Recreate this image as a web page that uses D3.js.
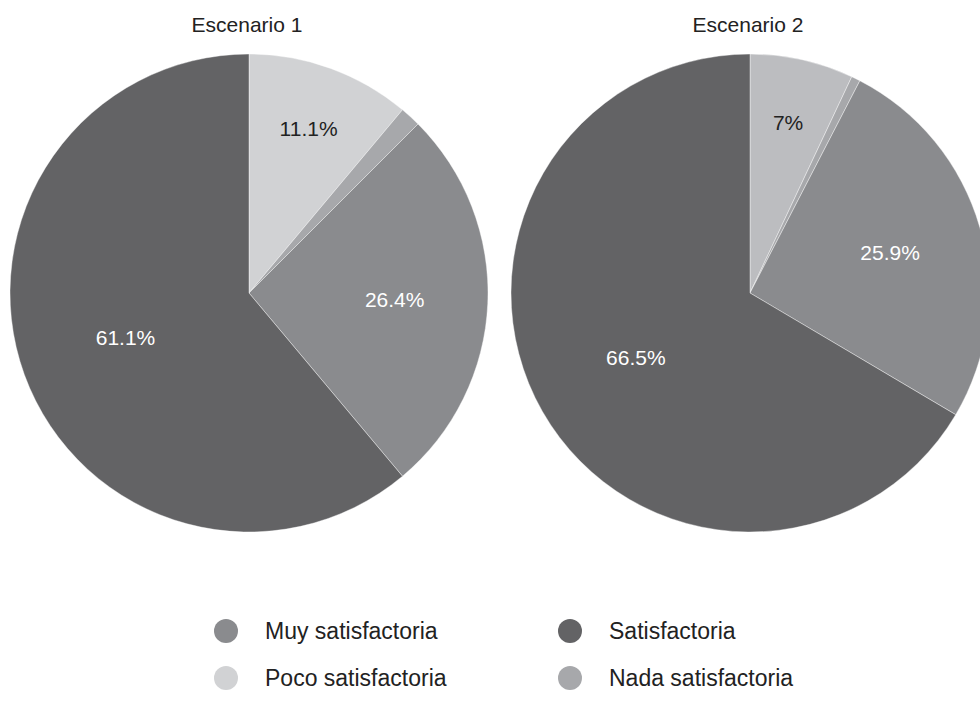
<!DOCTYPE html>
<html><head><meta charset="utf-8">
<script src="https://cdn.jsdelivr.net/npm/d3@7"></script>
<style>body{margin:0;background:#fff;} svg{display:block;}</style>
</head><body>
<svg id="chart" width="980" height="715"></svg>
<script>
const categories = ["Poco satisfactoria", "Nada satisfactoria", "Muy satisfactoria", "Satisfactoria"];
const scenarioTitles = ["Escenario 1", "Escenario 2"];
const scenario1 = [11.1, 1.4, 26.4, 61.1];
const scenario2 = [7.0, 0.6, 25.9, 66.5];
const labels1 = ["11.1%", "", "26.4%", "61.1%"];
const labels2 = ["7%", "", "25.9%", "66.5%"];
const legendOrder = ["Muy satisfactoria", "Satisfactoria", "Poco satisfactoria", "Nada satisfactoria"];

const colors = {"Poco satisfactoria":"#d1d2d4","Nada satisfactoria":"#a7a8ab","Muy satisfactoria":"#8a8b8e","Satisfactoria":"#636365"};
const colors2 = Object.assign({}, colors, {"Poco satisfactoria":"#bcbdc0"});

const svg = d3.select("#chart");
const font = "'Liberation Sans', Arial, Helvetica, sans-serif";
const R = 239;
const pie = d3.pie().sort(null).value(d => d.v);
const arc = d3.arc().innerRadius(0).outerRadius(R);

function labelRadius(frac) {
  if (frac < 0.15) return R * 0.73;
  if (frac < 0.5) return R * 0.61;
  return R * 0.55;
}

function drawPie(cx, cy, values, labels, title, cmap) {
  const data = categories.map((c, i) => ({c, v: values[i], label: labels[i]}));
  const g = svg.append("g").attr("transform", `translate(${cx},${cy})`);
  const arcs = pie(data);
  g.selectAll("path").data(arcs).join("path")
    .attr("d", arc).attr("fill", d => cmap[d.data.c])
    .attr("stroke", "#fff").attr("stroke-width", 0.4);
  g.selectAll("text.lbl").data(arcs.filter(d => d.data.label)).join("text")
    .attr("class", "lbl")
    .attr("transform", d => {
      const frac = (d.endAngle - d.startAngle) / (2 * Math.PI);
      const rr = labelRadius(frac);
      const a = (d.startAngle + d.endAngle) / 2;
      return `translate(${Math.sin(a) * rr},${-Math.cos(a) * rr})`;
    })
    .attr("text-anchor", "middle").attr("dy", "0.35em")
    .attr("font-family", font).attr("font-size", 21)
    .attr("fill", d => d.data.c === "Poco satisfactoria" ? "#222" : "#fff")
    .text(d => d.data.label);
  svg.append("text").attr("x", cx - 2).attr("y", 32)
    .attr("text-anchor", "middle").attr("font-family", font).attr("font-size", 21)
    .attr("fill", "#222").text(title);
}

drawPie(249, 293, scenario1, labels1, scenarioTitles[0], colors);
drawPie(750, 293, scenario2, labels2, scenarioTitles[1], colors2);

const legX = d3.scaleOrdinal().domain([0, 1]).range([226, 570]);
const legY = d3.scaleOrdinal().domain([0, 1]).range([631, 678]);
const leg = svg.append("g");
legendOrder.forEach((c, i) => {
  const col = i % 2, row = Math.floor(i / 2);
  leg.append("circle").attr("cx", legX(col)).attr("cy", legY(row)).attr("r", 12).attr("fill", colors[c]);
  leg.append("text").attr("x", legX(col) + 39).attr("y", legY(row)).attr("dy", "0.35em")
    .attr("font-family", font).attr("font-size", 23).attr("fill", "#222").text(c);
});
</script>
</body></html>
